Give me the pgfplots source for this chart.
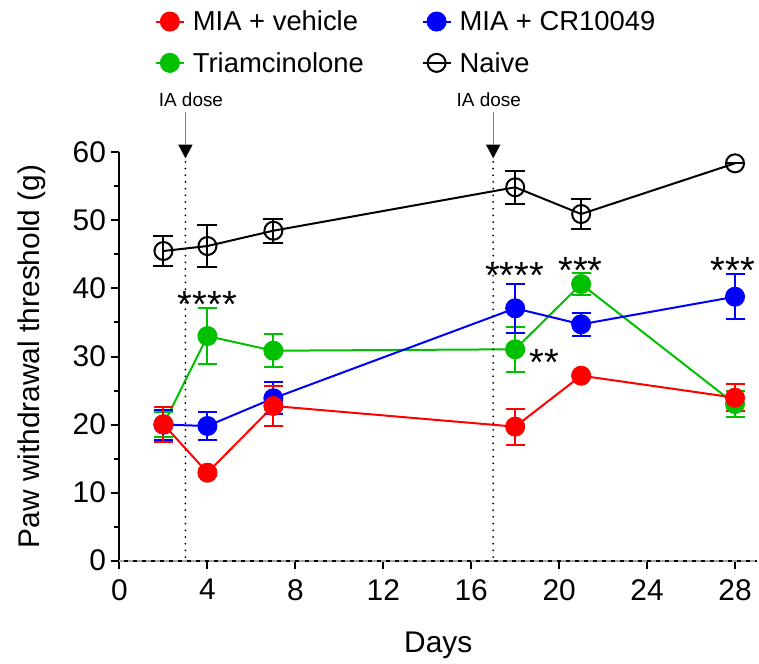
\documentclass[border=0pt]{standalone}
\usepackage{pgfplots}
\pgfplotsset{compat=1.18}
\usepackage{fontspec}
\setmainfont{Liberation Sans}
\definecolor{cred}{RGB}{255,0,0}
\definecolor{cblue}{RGB}{0,0,255}
\definecolor{cgreen}{RGB}{0,192,0}
\begin{document}
\begin{tikzpicture}
\useasboundingbox (-119.5bp,-103.3bp) rectangle (639.5bp,560.7bp);
\begin{axis}[
  at={(0bp,0bp)}, anchor=south west,
  scale only axis, width=637.5bp, height=408.4bp,
  xmin=0, xmax=29, ymin=0, ymax=60,
  axis lines*=left,
  axis line style={line width=2bp, black},
  xtick={0,4,...,28}, ytick={0,10,...,60},
  minor ytick={5,15,...,55},
  tick align=outside,
  major tick length=8bp, minor tick length=5bp,
  every tick/.append style={black, line width=2bp},
  tick label style={font=\fontsize{30}{36}\selectfont},
  xticklabel style={yshift=-7bp},
  yticklabel style={xshift=-2bp},
  /pgf/number format/assume math mode=true,
  xlabel={Days}, ylabel={Paw withdrawal threshold (g)},
  every axis x label/.style={at={(axis description cs:0.5,-0.206)}, anchor=center, font=\fontsize{30}{36}\selectfont},
  every axis y label/.style={at={(axis description cs:-0.137,0.5)}, anchor=center, rotate=90, font=\fontsize{30}{36}\selectfont},
  clip=false,
  legend columns=2,
  legend cell align=left,
  legend style={at={(axis description cs:0.0505,1.3517)}, anchor=north west, draw=none, fill=none,
    font=\fontsize{27.5}{33}\selectfont, nodes={inner sep=0pt},
    column sep=8bp, /tikz/every even column/.append style={column sep=57.7bp}, row sep=20bp},
  legend image code/.code={\draw[mark repeat=2,mark phase=2] plot coordinates {(0bp,0bp) (14bp,0bp) (28bp,0bp)};},
]
\addlegendimage{color=cred, line width=2bp, mark=*, mark size=9.5bp, mark options={fill=cred, line width=1bp}}
\addlegendentry{MIA + vehicle}
\addlegendimage{color=cblue, line width=2bp, mark=*, mark size=9.5bp, mark options={fill=cblue, line width=1bp}}
\addlegendentry{MIA + CR10049}
\addlegendimage{color=cgreen, line width=2bp, mark=*, mark size=9.5bp, mark options={fill=cgreen, line width=1bp}}
\addlegendentry{Triamcinolone}
\addlegendimage{color=black, line width=2bp, mark=o, mark size=9bp}
\addlegendentry{Naive}

% Naive
\addplot[forget plot, color=black, line width=2bp, mark=o, mark size=9bp,
  error bars/.cd, y dir=both, y explicit, error bar style={line width=2bp},
  error mark options={rotate=90, mark size=10bp, line width=2bp}]
  coordinates {(2,45.5) +- (0,2.2) (4,46.23) +- (0,3.15) (7,48.48) +- (0,1.75)
    (18,54.86) +- (0,2.4) (21,50.93) +- (0,2.2) (28,58.38) +- (0,0)};
% Triamcinolone
\addplot[forget plot, color=cgreen, line width=2bp, mark=*, mark size=9.5bp, mark options={fill=cgreen, line width=1bp},
  error bars/.cd, y dir=both, y explicit, error bar style={line width=2bp},
  error mark options={rotate=90, mark size=9.5bp, line width=2bp}]
  coordinates {(2,20.0) +- (0,1.8) (4,33.0) +- (0,4.1) (7,30.85) +- (0,2.45)
    (18,31.06) +- (0,3.3) (21,40.65) +- (0,1.65) (28,23.02) +- (0,1.9)};
% MIA + CR10049
\addplot[forget plot, color=cblue, line width=2bp, mark=*, mark size=9.5bp, mark options={fill=cblue, line width=1bp},
  error bars/.cd, y dir=both, y explicit, error bar style={line width=2bp},
  error mark options={rotate=90, mark size=9.5bp, line width=2bp}]
  coordinates {(2,20.0) +- (0,2.2) (4,19.79) +- (0,2.0) (7,23.86) +- (0,2.35)
    (18,37.08) +- (0,3.6) (21,34.73) +- (0,1.7) (28,38.78) +- (0,3.3)};
% MIA + vehicle
\addplot[forget plot, color=cred, line width=2bp, mark=*, mark size=9.5bp, mark options={fill=cred, line width=1bp},
  error bars/.cd, y dir=both, y explicit, error bar style={line width=2bp},
  error mark options={rotate=90, mark size=9.5bp, line width=2bp}]
  coordinates {(2,20.04) +- (0,2.6) (4,12.93) +- (0,0.3) (7,22.73) +- (0,3.0)
    (18,19.69) +- (0,2.65) (21,27.18) +- (0,0.3) (28,23.95) +- (0,2.0)};

% dashed zero line
\draw[gray!70, line width=2bp, dash pattern=on 5bp off 4bp] (axis cs:0,0) -- (axis cs:29,0);

% IA dose markers
\draw[line width=2bp, line cap=round, dash pattern=on 0bp off 6.7bp] (axis cs:3,58.6) -- (axis cs:3,0);
\fill[black] (axis cs:3,59.12) -- ++(-7.2bp,13.6bp) -- ++(14.4bp,0bp) -- cycle;
\draw[gray, line width=0.8bp] (axis cs:3,65.96) -- (axis cs:3,61.0);
\node[font=\fontsize{19}{22}\selectfont, anchor=base, inner sep=0pt] at (axis cs:3.25,66.7) {IA dose};
\draw[line width=2bp, line cap=round, dash pattern=on 0bp off 6.7bp] (axis cs:17,58.6) -- (axis cs:17,0);
\fill[black] (axis cs:17,59.12) -- ++(-7.2bp,13.6bp) -- ++(14.4bp,0bp) -- cycle;
\draw[gray, line width=0.8bp] (axis cs:17,65.96) -- (axis cs:17,61.0);
\node[font=\fontsize{19}{22}\selectfont, anchor=base, inner sep=0pt] at (axis cs:16.8,66.7) {IA dose};

% significance
\node[font=\fontsize{38}{40}\selectfont, anchor=base, inner sep=0pt] at (axis cs:4,35.75) {****};
\node[font=\fontsize{38}{40}\selectfont, anchor=base, inner sep=0pt] at (axis cs:17.97,39.97) {****};
\node[font=\fontsize{38}{40}\selectfont, anchor=base, inner sep=0pt] at (axis cs:20.97,40.78) {***};
\node[font=\fontsize{38}{40}\selectfont, anchor=base, inner sep=0pt] at (axis cs:27.9,40.78) {***};
\node[font=\fontsize{38}{40}\selectfont, anchor=base, inner sep=0pt] at (axis cs:19.34,27.27) {**};
\end{axis}
\end{tikzpicture}
\end{document}
